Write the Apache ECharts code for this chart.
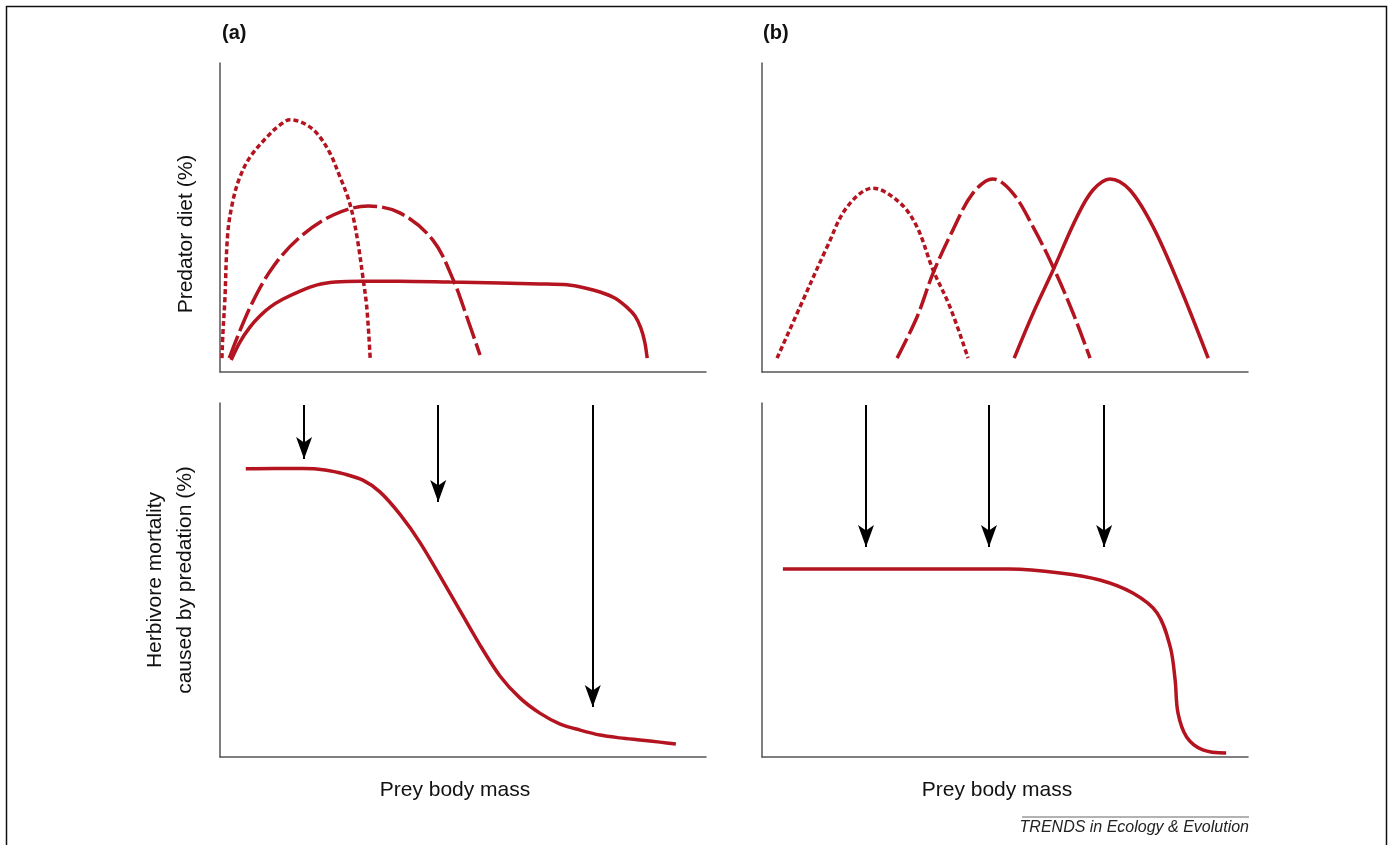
<!DOCTYPE html>
<html>
<head>
<meta charset="utf-8">
<script src="https://cdn.jsdelivr.net/npm/echarts@6/dist/echarts.min.js"></script>
<style>
html,body{margin:0;padding:0;background:#fff;}
#chart{width:1389px;height:845px;}
</style>
</head>
<body>
<div id="chart"></div>
<script>
// Panel (a) top: predator diet vs prey body mass (x 0-100, y 0-100)
const dietA_small = [[0.4,4.5],[0.6,12.6],[1.0,23.3],[1.6,45.0],[2.7,55.7],[4.1,63.1],[6.2,69.6],[9.7,76.1],[12.3,79.9],[14.4,81.6],[17.1,80.6],[19.9,77.3],[22.6,70.9],[24.7,63.1],[26.3,56.6],[27.4,50.2],[28.4,41.7],[29.4,30.7],[30.2,21.0],[30.9,4.5]];
const dietA_medium = [[1.9,4.5],[6.2,21.0],[10.9,34.0],[16.5,43.7],[23.3,50.8],[30.5,53.7],[37.0,51.5],[43.8,42.7],[48.0,29.8],[50.8,17.8],[53.5,5.5]];
const dietA_large = [[2.3,3.9],[4.1,9.7],[6.2,14.6],[8.2,18.1],[10.3,21.0],[13.0,23.6],[16.5,26.2],[20.0,28.2],[23.7,29.1],[28.8,29.4],[37.0,29.4],[47.3,29.1],[57.6,28.8],[65.8,28.5],[71.4,28.2],[75.1,27.2],[78.2,25.9],[81.3,23.9],[83.7,21.0],[85.4,18.1],[86.6,14.2],[87.4,9.7],[87.9,4.5]];
// Panel (b) top
const dietB_small = [[3.1,4.5],[7.8,21.0],[13.4,40.5],[17.5,53.4],[22.8,59.5],[28.4,54.7],[31.9,46.9],[35.2,33.0],[38.7,21.0],[42.4,4.5]];
const dietB_medium = [[27.8,4.5],[31.9,17.8],[35.2,32.0],[39.3,46.0],[43.4,57.9],[47.5,62.5],[51.6,57.9],[55.8,46.9],[59.9,34.0],[64.0,19.1],[67.5,4.5]];
const dietB_large = [[51.9,4.5],[55.8,19.1],[59.9,33.0],[64.8,50.2],[68.1,58.9],[71.6,62.5],[75.7,58.9],[80.5,46.9],[86.0,27.5],[91.8,4.5]];
// Bottom panels: herbivore mortality caused by predation
const mortA = [[5.3,81.4],[11.3,81.5],[17.1,81.5],[21.6,81.1],[25.7,79.9],[29.4,78.2],[32.9,74.9],[37.0,68.6],[41.2,60.5],[47.9,44.9],[53.5,31.6],[57.6,22.9],[61.7,16.7],[65.8,12.4],[70.0,9.3],[74.1,7.6],[78.2,6.2],[82.3,5.4],[86.4,4.8],[90.5,4.2],[93.8,3.7]];
const mortB = [[4.3,53.1],[28.4,53.1],[51.0,53.1],[61.3,52.0],[69.5,50.0],[76.3,46.3],[81.3,40.7],[84.0,31.1],[85.0,21.8],[85.6,12.4],[87.4,5.6],[90.7,2.0],[95.5,1.1]];
// Arrows: [x, yStart, yTip]
const arrowsA = [[17.3,99.4,84.2],[44.9,99.4,72.0],[76.7,99.4,14.1]];
const arrowsB = [[21.4,99.4,59.3],[46.7,99.4,59.3],[70.4,99.4,59.3]];

const panelLabels = ['(a)','(b)'];
const yNameTop = 'Predator diet (%)';
const yNameBottom = ['Herbivore mortality','caused by predation (%)'];
const xName = 'Prey body mass';
const credit = 'TRENDS in Ecology & Evolution';

const RED = '#b3141f';
const FONT = 'Liberation Sans, Arial, sans-serif';

const grids = [
  {left:220, top:63, width:486, height:309},
  {left:762, top:63, width:486, height:309},
  {left:220, top:403, width:486, height:354},
  {left:762, top:403, width:486, height:354}
];

function xAx(i){
  return {
    type:'value', gridIndex:i, min:0, max:100,
    axisLine:{show:true, onZero:false, lineStyle:{color:'#555', width:1.5}},
    axisTick:{show:false}, axisLabel:{show:false}, splitLine:{show:false}
  };
}
function yAx(i){
  return {
    type:'value', gridIndex:i, min:0, max:100,
    axisLine:{show:true, onZero:false, lineStyle:{color:'#555', width:1.5}},
    axisTick:{show:false}, axisLabel:{show:false}, splitLine:{show:false}
  };
}

function curve(i, data, type, dash, width, sm){
  return {
    type:'line', xAxisIndex:i, yAxisIndex:i, data:data, smooth: sm || 0.35,
    symbol:'none', silent:true,
    lineStyle:{color:RED, width:width||3.5, type: type==='solid' ? 'solid' : dash, cap:'butt'}
  };
}

function arrowMarks(list){
  return {
    silent:true, symbol:['none','arrow'], symbolSize:[12,22],
    label:{show:false}, animation:false,
    lineStyle:{color:'#000', width:2, type:'solid'},
    itemStyle:{color:'#000'},
    data: list.map(a => [{coord:[a[0], a[1]]},{coord:[a[0], a[2]]}])
  };
}

const series = [
  curve(0, dietA_small, 'dash', [5,3], 3.5),
  curve(0, dietA_medium, 'dash', [24,5], 3.5),
  curve(0, dietA_large, 'solid', null, 3.5, 0.3),
  curve(1, dietB_small, 'dash', [5,3], 3.5),
  curve(1, dietB_medium, 'dash', [22,5], 3.5),
  curve(1, dietB_large, 'solid'),
  Object.assign(curve(2, mortA, 'solid', null, 3.5, 0.3), {markLine: arrowMarks(arrowsA)}),
  Object.assign(curve(3, mortB, 'solid'), {markLine: arrowMarks(arrowsB)})
];

function vText(text, x, y){
  return {type:'text', x:x, y:y, rotation:Math.PI/2, silent:true,
    style:{text:text, font:'21px '+FONT, fill:'#111', align:'center', verticalAlign:'middle'}};
}
function hText(text, x, y){
  return {type:'text', x:x, y:y, silent:true,
    style:{text:text, font:'21px '+FONT, fill:'#111', align:'center', verticalAlign:'middle'}};
}

const chart = echarts.init(document.getElementById('chart'), null, {renderer:'canvas'});
chart.setOption({
  animation:false,
  backgroundColor:'#fff',
  grid: grids,
  xAxis:[xAx(0), xAx(1), xAx(2), xAx(3)],
  yAxis:[yAx(0), yAx(1), yAx(2), yAx(3)],
  series: series,
  graphic:[
    {type:'rect', shape:{x:6.5, y:6.5, width:1380, height:860}, style:{fill:'none', stroke:'#111', lineWidth:1.5}, silent:true},
    {type:'text', x:222, y:33, style:{text:panelLabels[0], font:'bold 20px '+FONT, fill:'#111', verticalAlign:'middle'}},
    {type:'text', x:763, y:33, style:{text:panelLabels[1], font:'bold 20px '+FONT, fill:'#111', verticalAlign:'middle'}},
    vText(yNameTop, 186, 234),
    vText(yNameBottom[0], 155, 580),
    vText(yNameBottom[1], 185, 580),
    hText(xName, 455, 790),
    hText(xName, 997, 790),
    {type:'line', shape:{x1:1022, y1:817, x2:1249, y2:817}, style:{stroke:'#666', lineWidth:1}},
    {type:'text', x:1249, y:828, style:{text:credit, font:'italic 16px '+FONT, fill:'#222', align:'right', verticalAlign:'middle'}}
  ]
});
</script>
</body>
</html>
